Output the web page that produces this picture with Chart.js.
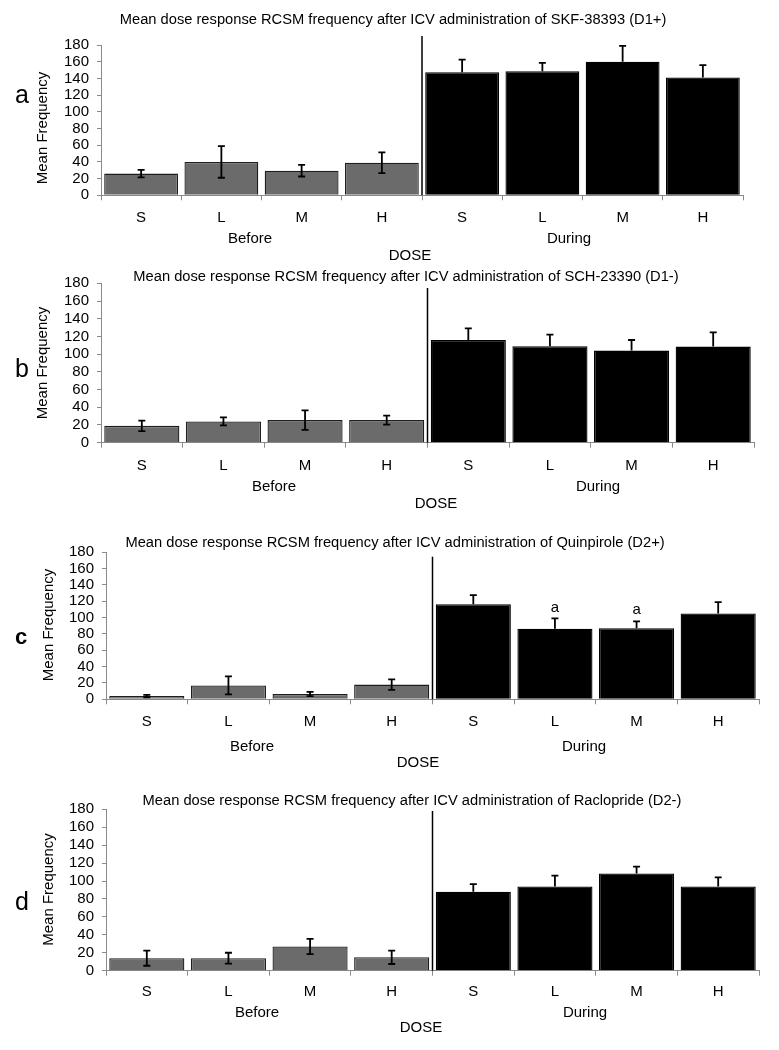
<!DOCTYPE html>
<html>
<head>
<meta charset="utf-8">
<script src="https://cdn.jsdelivr.net/npm/chart.js@4.4.1/dist/chart.umd.min.js"></script>
<style>
  body { margin: 0; background: #fff; }
  #wrap { position: relative; width: 779px; height: 1050px; }
  canvas { position: absolute; left: 0; }
</style>
</head>
<body>
<div id="wrap">
  <canvas id="panelA"></canvas>
  <canvas id="panelB"></canvas>
  <canvas id="panelC"></canvas>
  <canvas id="panelD"></canvas>
</div>
<script>
const doses = ['S', 'L', 'M', 'H'];
const groupNames = ['Before', 'During'];
const yMax = 180;
const yStep = 20;

// a - SKF-38393 (D1+)
const titleA = 'Mean dose response RCSM frequency after ICV administration of SKF-38393 (D1+)';
const beforeA = [26, 40, 29.5, 39];
const beforeErrA = [4.5, 19, 7, 12.5];
const duringA = [147.5, 148.5, 160, 141];
const duringErrA = [15, 10, 19, 15];

// b - SCH-23390 (D1-)
const titleB = 'Mean dose response RCSM frequency after ICV administration of SCH-23390 (D1-)';
const beforeB = [19, 24, 25.5, 25.5];
const beforeErrB = [6, 4.5, 11, 5];
const duringB = [116, 109, 104, 108.5];
const duringErrB = [13, 13, 12, 16];

// c - Quinpirole (D2+)
const titleC = 'Mean dose response RCSM frequency after ICV administration of Quinpirole (D2+)';
const beforeC = [4, 17, 6.5, 18];
const beforeErrC = [1.5, 11, 2.5, 6.5];
const duringC = [116.5, 86.5, 87, 105];
const duringErrC = [11, 12.5, 8.5, 14];
const sigC = ['', 'a', 'a', ''];

// d - Raclopride (D2-)
const titleD = 'Mean dose response RCSM frequency after ICV administration of Raclopride (D2-)';
const beforeD = [14, 14, 27, 15];
const beforeErrD = [8.5, 6, 8.5, 7.5];
const duringD = [88, 94, 108.5, 94];
const duringErrD = [8.5, 12, 7.5, 10];

const FONT = '"Liberation Sans", Arial, sans-serif';
const axisGray = '#8a8a8a';
const grayBar = '#6b6b6b';

// page positions of each panel (pixels)
const layouts = {
  a: { top: 0, height: 266, left: 101, right: 743, plotTop: 45, plotBottom: 195.3,
       titleX: 393, titleY: 20, yTitleX: 43, yTitleY: 128, letter: 'a', letterX: 22, letterY: 96, letterBold: false,
       catY: 218, groupY: 239, beforeX: 250, duringX: 569, doseX: 410, doseY: 256, dividerTop: 36 },
  b: { top: 266, height: 254, left: 101, right: 754, plotTop: 283.3, plotBottom: 442.7,
       titleX: 406, titleY: 277, yTitleX: 43, yTitleY: 363, letter: 'b', letterX: 22, letterY: 370, letterBold: false,
       catY: 465.7, groupY: 487, beforeX: 274, duringX: 598, doseX: 436, doseY: 504, dividerTop: 288 },
  c: { top: 520, height: 260, left: 106, right: 759, plotTop: 552.3, plotBottom: 699.3,
       titleX: 395, titleY: 543, yTitleX: 49, yTitleY: 625, letter: 'c', letterX: 21, letterY: 638, letterBold: true,
       catY: 721.7, groupY: 746.7, beforeX: 252, duringX: 584, doseX: 418, doseY: 763, dividerTop: 556.7 },
  d: { top: 780, height: 270, left: 106, right: 759, plotTop: 809.3, plotBottom: 970.7,
       titleX: 412, titleY: 801, yTitleX: 49, yTitleY: 889.5, letter: 'd', letterX: 22, letterY: 903, letterBold: false,
       catY: 992.3, groupY: 1013.3, beforeX: 257, duringX: 585, doseX: 421, doseY: 1028, dividerTop: 811 }
};

function makePanel(id, lay, title, before, beforeErr, during, duringErr, sig) {
  const canvas = document.getElementById(id);
  canvas.width = 779;
  canvas.height = lay.height;
  canvas.style.top = lay.top + 'px';
  const off = lay.top;
  const values = before.concat(during);
  const errs = beforeErr.concat(duringErr);
  const tickFont = 15;

  const decor = {
    id: 'decor_' + id,
    afterDatasetsDraw(chart) {
      const ctx = chart.ctx;
      const meta = chart.getDatasetMeta(0);
      const y = chart.scales.y;
      ctx.save();
      // error bars
      ctx.strokeStyle = '#000';
      ctx.lineWidth = 1.8;
      meta.data.forEach((bar, i) => {
        const twoSided = i < before.length;
        const top = y.getPixelForValue(values[i] + errs[i]);
        const bot = twoSided ? y.getPixelForValue(values[i] - errs[i]) : y.getPixelForValue(values[i]);
        ctx.beginPath();
        ctx.moveTo(bar.x, top);
        ctx.lineTo(bar.x, bot);
        ctx.moveTo(bar.x - 3.5, top);
        ctx.lineTo(bar.x + 3.5, top);
        if (twoSided) {
          ctx.moveTo(bar.x - 3.5, bot);
          ctx.lineTo(bar.x + 3.5, bot);
        }
        ctx.stroke();
      });
      // significance marks
      if (sig) {
        ctx.fillStyle = '#000';
        ctx.font = tickFont + 'px ' + FONT;
        ctx.textAlign = 'center';
        ctx.textBaseline = 'middle';
        sig.forEach((s, i) => {
          if (!s) return;
          const k = before.length + i;
          const bar = meta.data[k];
          ctx.fillText(s, bar.x, y.getPixelForValue(values[k] + errs[k]) - 11);
        });
      }
      // divider between Before and During
      const dx = (meta.data[3].x + meta.data[4].x) / 2;
      ctx.strokeStyle = '#000';
      ctx.lineWidth = 1.5;
      ctx.beginPath();
      ctx.moveTo(dx, lay.dividerTop - off);
      ctx.lineTo(dx, chart.chartArea.bottom);
      ctx.stroke();
      ctx.restore();
    },
    afterDraw(chart) {
      const ctx = chart.ctx;
      ctx.save();
      ctx.fillStyle = '#000';
      ctx.textBaseline = 'middle';
      ctx.textAlign = 'center';
      ctx.font = '14.7px ' + FONT;
      ctx.fillText(title, lay.titleX, lay.titleY - off);
      ctx.font = tickFont + 'px ' + FONT;
      ctx.fillText(groupNames[0], lay.beforeX, lay.groupY - off);
      ctx.fillText(groupNames[1], lay.duringX, lay.groupY - off);
      ctx.fillText('DOSE', lay.doseX, lay.doseY - off);
      ctx.font = (lay.letterBold ? 'bold 22px ' : '25px ') + FONT;
      ctx.fillText(lay.letter, lay.letterX, lay.letterY - off);
      ctx.translate(lay.yTitleX, lay.yTitleY - off);
      ctx.rotate(-Math.PI / 2);
      ctx.font = '15px ' + FONT;
      ctx.fillText('Mean Frequency', 0, 0);
      ctx.restore();
    }
  };

  return new Chart(canvas, {
    type: 'bar',
    data: {
      labels: doses.concat(doses),
      datasets: [{
        data: values,
        backgroundColor: values.map((v, i) => i < before.length ? grayBar : '#000'),
        borderColor: values.map((v, i) => i < before.length ? '#1e1e1e' : '#000'),
        borderWidth: 1.3,
        barPercentage: 0.92,
        categoryPercentage: 1
      }]
    },
    options: {
      responsive: false,
      animation: false,
      layout: { padding: { left: 0, right: 779 - lay.right, top: lay.plotTop - off, bottom: 0 } },
      plugins: { legend: { display: false }, tooltip: { enabled: false }, title: { display: false } },
      scales: {
        x: {
          grid: { offset: true, drawOnChartArea: false, tickLength: 5, color: axisGray },
          border: { color: axisGray },
          ticks: { color: '#000', font: { family: FONT, size: tickFont }, autoSkip: false, maxRotation: 0,
                   padding: lay.catY - lay.plotBottom - 5 - tickFont * 0.6 },
          afterFit: s => { s.height = off + lay.height - lay.plotBottom; }
        },
        y: {
          min: 0, max: yMax,
          ticks: { stepSize: yStep, autoSkip: false, color: '#000', font: { family: FONT, size: 15 }, padding: 8 },
          grid: { drawOnChartArea: false, tickLength: 4, color: axisGray },
          border: { color: axisGray },
          afterFit: s => { s.width = lay.left; }
        }
      }
    },
    plugins: [decor]
  });
}

makePanel('panelA', layouts.a, titleA, beforeA, beforeErrA, duringA, duringErrA, null);
makePanel('panelB', layouts.b, titleB, beforeB, beforeErrB, duringB, duringErrB, null);
makePanel('panelC', layouts.c, titleC, beforeC, beforeErrC, duringC, duringErrC, sigC);
makePanel('panelD', layouts.d, titleD, beforeD, beforeErrD, duringD, duringErrD, null);
</script>
</body>
</html>
